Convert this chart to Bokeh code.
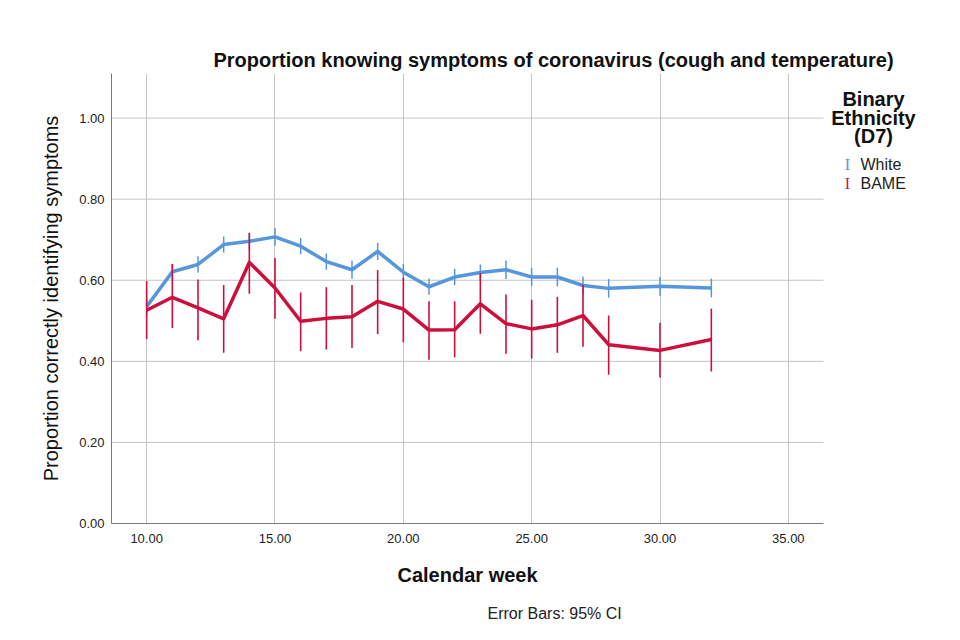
from bokeh.plotting import figure
from bokeh.models import Label, Range1d, FixedTicker, PrintfTickFormatter, Title
from bokeh.embed import file_html
from bokeh.resources import INLINE

# ---- data ----
weeks = [10, 11, 12, 13, 14, 15, 16, 17, 18, 19, 20, 21, 22, 23, 24, 25, 26, 27, 28, 30, 32]

white_mean = [0.535, 0.621, 0.639, 0.688, 0.696, 0.707, 0.684, 0.646, 0.626, 0.671, 0.620,
              0.584, 0.608, 0.619, 0.626, 0.608, 0.608, 0.587, 0.580, 0.585, 0.581]
white_lower = [0.515, 0.603, 0.619, 0.668, 0.676, 0.685, 0.664, 0.626, 0.604, 0.650, 0.600,
               0.564, 0.588, 0.599, 0.603, 0.586, 0.585, 0.565, 0.557, 0.562, 0.558]
white_upper = [0.555, 0.639, 0.659, 0.708, 0.716, 0.729, 0.704, 0.666, 0.648, 0.692, 0.640,
               0.604, 0.628, 0.639, 0.649, 0.630, 0.631, 0.609, 0.603, 0.608, 0.604]

bame_mean = [0.526, 0.558, 0.532, 0.505, 0.644, 0.581, 0.499, 0.506, 0.510, 0.548, 0.529,
             0.477, 0.478, 0.542, 0.493, 0.480, 0.490, 0.513, 0.441, 0.427, 0.454]
bame_lower = [0.455, 0.482, 0.452, 0.421, 0.567, 0.505, 0.425, 0.429, 0.433, 0.467, 0.447,
              0.404, 0.410, 0.468, 0.419, 0.407, 0.421, 0.436, 0.367, 0.360, 0.375]
bame_upper = [0.598, 0.640, 0.602, 0.588, 0.717, 0.655, 0.570, 0.583, 0.588, 0.625, 0.606,
              0.548, 0.548, 0.618, 0.565, 0.552, 0.559, 0.589, 0.513, 0.495, 0.530]

x_ticks = [10, 15, 20, 25, 30, 35]
y_ticks = [0.0, 0.2, 0.4, 0.6, 0.8, 1.0]

title_text = "Proportion knowing symptoms of coronavirus (cough and temperature)"
x_label = "Calendar week"
y_label = "Proportion correctly identifying symptoms"
legend_title = ["Binary", "Ethnicity", "(D7)"]
series_names = ["White", "BAME"]
note_text = "Error Bars: 95% CI"

BLUE = "#5596DC"
RED = "#CC0F3C"
FONT = "Liberation Sans"
GRID = "#c4c4c4"

X0, X1 = 8.63, 36.37          # extent of the axes
Y0, Y1 = 0.0, 1.11

# frame extends to the right edge so the legend area lies inside the frame
p = figure(width=944, height=624, output_backend="svg", toolbar_location=None,
           x_range=Range1d(X0, 41.084), y_range=Range1d(Y0, Y1),
           min_border_left=111, min_border_right=0, min_border_top=73, min_border_bottom=101)
p.title.visible = False
p.outline_line_color = None
p.background_fill_color = "white"
p.border_fill_color = "white"

for ax in (p.xaxis[0], p.yaxis[0]):
    ax.axis_line_color = "#7a7a7a"
    ax.axis_line_width = 1
    ax.major_tick_line_color = None
    ax.minor_tick_line_color = None
    ax.major_tick_out = 0
    ax.major_tick_in = 0
    ax.major_label_text_font = FONT
    ax.major_label_text_font_size = "13px"
    ax.major_label_text_color = "#222222"
    ax.formatter = PrintfTickFormatter(format="%.2f")

p.xaxis[0].bounds = (X0, X1)
p.xaxis[0].ticker = FixedTicker(ticks=x_ticks)
p.yaxis[0].ticker = FixedTicker(ticks=y_ticks)
p.xaxis[0].major_label_standoff = 10
p.yaxis[0].major_label_standoff = 7
p.yaxis[0].axis_label = y_label
p.yaxis[0].axis_label_text_font = FONT
p.yaxis[0].axis_label_text_font_size = "20px"
p.yaxis[0].axis_label_text_color = "#111111"
p.yaxis[0].axis_label_text_font_style = "normal"
p.yaxis[0].axis_label_standoff = 14

p.xgrid[0].ticker = FixedTicker(ticks=x_ticks)
p.xgrid[0].grid_line_color = GRID
p.xgrid[0].grid_line_width = 1
p.ygrid[0].grid_line_color = None

# horizontal grid lines limited to the axis extent
hgrid = y_ticks[1:]
p.segment(x0=[X0] * len(hgrid), y0=hgrid, x1=[X1] * len(hgrid), y1=hgrid,
          line_color=GRID, line_width=1)

# White series
p.segment(x0=weeks, y0=white_lower, x1=weeks, y1=white_upper, line_color=BLUE, line_width=1.5)
p.line(weeks, white_mean, line_color=BLUE, line_width=3.5, line_join="round")
# BAME series
p.segment(x0=weeks, y0=bame_lower, x1=weeks, y1=bame_upper, line_color=RED, line_width=1.6)
p.line(weeks, bame_mean, line_color=RED, line_width=3.5, line_join="round")

# title above; x-axis title and note below (left-aligned with offsets from the frame's left edge)
p.add_layout(Title(text=title_text, text_font=FONT, text_font_size="20px", text_font_style="bold",
                   text_color="#111111", align="left", offset=102, standoff=5), "above")
p.add_layout(Title(text=x_label, text_font=FONT, text_font_size="20px", text_font_style="bold",
                   text_color="#111111", align="left", offset=286, standoff=33), "below")
p.add_layout(Title(text=note_text, text_font=FONT, text_font_size="16px", text_font_style="normal",
                   text_color="#222222", align="left", offset=376, standoff=0), "below")

def lab(x, y, text, size, bold=False, align="center", baseline="alphabetic", color="#111111",
        font=FONT):
    p.add_layout(Label(x=x, y=y, x_units="canvas", y_units="canvas", text=text,
                       text_font=font, text_font_size=size,
                       text_font_style="bold" if bold else "normal", text_align=align,
                       text_baseline=baseline, text_color=color))

for txt, yy in zip(legend_title, [98, 117, 135]):
    lab(873, yy, txt, "20px", bold=True)

for name, col, yy in zip(series_names, [BLUE, RED], [164, 183]):
    lab(847, yy, "I", "16px", color=col, font="Liberation Serif")
    lab(860, yy, name, "16px", align="left", color="#222222")

open("out.html", "w").write(file_html(p, INLINE))
